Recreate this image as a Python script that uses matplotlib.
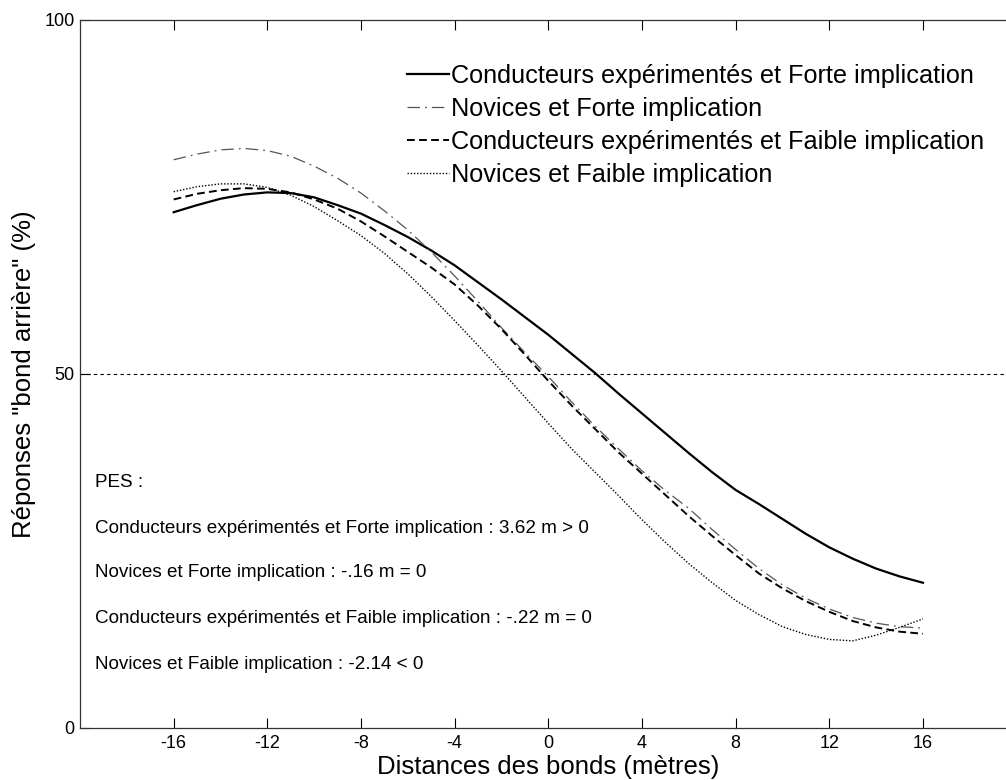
import matplotlib
matplotlib.use("Agg")
import matplotlib.pyplot as plt

plt.rcParams['font.family'] = ['Liberation Sans', 'DejaVu Sans']

# Jump distances (m)
distances = list(range(-16, 17))

# Percentage of "bond arrière" responses per group
exp_forte = [72.8, 73.8, 74.7, 75.3, 75.6, 75.5, 74.9, 73.8, 72.6, 71.0, 69.3, 67.4, 65.3,
             62.9, 60.5, 58.0, 55.5, 52.8, 50.1, 47.2, 44.4, 41.6, 38.8, 36.1, 33.6, 31.6,
             29.5, 27.4, 25.5, 23.9, 22.5, 21.4, 20.5]
nov_forte = [80.2, 81.0, 81.6, 81.8, 81.5, 80.7, 79.3, 77.6, 75.5, 73.0, 70.3, 67.2, 63.8,
             60.2, 56.5, 53.0, 49.6, 46.0, 42.6, 39.4, 36.3, 33.5, 31.0, 28.0, 25.2, 22.5,
             20.2, 18.3, 16.8, 15.6, 14.8, 14.3, 14.1]
exp_faible = [74.6, 75.4, 75.9, 76.2, 76.1, 75.6, 74.6, 73.3, 71.5, 69.4, 67.2, 65.0, 62.6,
              59.6, 56.3, 52.7, 49.0, 45.5, 42.2, 38.9, 35.9, 32.9, 29.9, 27.1, 24.4, 21.8,
              19.7, 17.9, 16.4, 15.1, 14.2, 13.6, 13.3]
nov_faible = [75.7, 76.4, 76.8, 76.8, 76.3, 75.2, 73.6, 71.6, 69.5, 67.0, 64.1, 60.9, 57.5,
              54.0, 50.4, 46.7, 43.0, 39.4, 36.1, 32.8, 29.4, 26.2, 23.2, 20.5, 18.0, 16.0,
              14.3, 13.2, 12.5, 12.3, 13.1, 14.2, 15.4]

series_labels = ["Conducteurs expérimentés et Forte implication",
                 "Novices et Forte implication",
                 "Conducteurs expérimentés et Faible implication",
                 "Novices et Faible implication"]

pes_title = "PES :"
pes_lines = ["Conducteurs expérimentés et Forte implication : 3.62 m > 0",
             "Novices et Forte implication : -.16 m = 0",
             "Conducteurs expérimentés et Faible implication : -.22 m = 0",
             "Novices et Faible implication : -2.14 < 0"]

x_ticks = [-16, -12, -8, -4, 0, 4, 8, 12, 16]
y_ticks = [0, 50, 100]

fig = plt.figure(figsize=(10.06, 7.8), dpi=100)
ax = fig.add_axes([80 / 1006, 52 / 780, 936.6 / 1006, 708.5 / 780])

ax.axhline(50, color='black', lw=0.8, ls=(0, (3, 3)), zorder=1)

ax.plot(distances, exp_forte, color='black', lw=1.6, ls='-', label=series_labels[0])
ax.plot(distances, nov_forte, color='#555555', lw=0.9, ls=(0, (10, 4, 1.5, 4)),
        label=series_labels[1])
ax.plot(distances, exp_faible, color='black', lw=1.4, ls=(0, (4, 2.2)), label=series_labels[2])
ax.plot(distances, nov_faible, color='black', lw=1.0, ls=(0, (1, 1.3)), label=series_labels[3])

ax.set_xlim(-20, 20)
ax.set_ylim(0, 100)
ax.set_xticks(x_ticks)
ax.set_xticklabels([str(t) for t in x_ticks])
ax.set_yticks(y_ticks)
ax.tick_params(direction='in', length=7, width=0.8, labelsize=13, top=True, right=True,
               colors='black')
ax.tick_params(axis='x', pad=5)
ax.tick_params(axis='y', pad=4)
for s in ax.spines.values():
    s.set_linewidth(0.9)
    s.set_color('#333333')

ax.set_xlabel("Distances des bonds (mètres)", fontsize=18.5, va='baseline')
ax.set_ylabel("Réponses \"bond arrière\" (%)", fontsize=18.5)
ax.xaxis.set_label_coords(0.5, (728 - 774) / 708.5)
ax.yaxis.set_label_coords((36 - 80) / 936.6, 0.5)

leg = ax.legend(loc='upper left', bbox_to_anchor=(407 / 1006, 1 - 64 / 780),
                bbox_transform=fig.transFigure, frameon=False, fontsize=18.2,
                handlelength=1.66, handletextpad=0.08, labelspacing=0.36,
                borderpad=0, borderaxespad=0)

ax.text(-19.35, 34.7, pes_title, fontsize=13.6, va='center', ha='left')
pes_y = [28.2, 21.9, 15.4, 9.0]
for yv, line in zip(pes_y, pes_lines):
    ax.text(-19.35, yv, line, fontsize=13.6, va='center', ha='left')

fig.savefig("out.png", dpi=100)
